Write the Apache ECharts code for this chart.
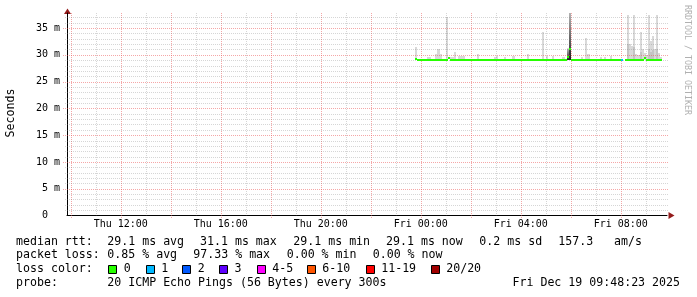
<!DOCTYPE html>
<html><head><meta charset="utf-8">
<script src="https://cdn.jsdelivr.net/npm/echarts@6/dist/echarts.min.js"></script>
<style>html,body{margin:0;padding:0;background:#fff}#c{width:697px;height:297px}</style>
</head><body><div id="c"></div>
<script>
// ---------------- DATA ----------------
// time unit: minutes after Thu 00:00
const axisStart = 591;      // Thu 09:51 (left edge)
const axisEnd = 2031;       // Fri 09:51 (right edge)
const tickMinutes = [720, 960, 1200, 1440, 1680, 1920];
const tickLabels = ['Thu 12:00', 'Thu 16:00', 'Thu 20:00', 'Fri 00:00', 'Fri 04:00', 'Fri 08:00'];
const yTickValues = [0, 5, 10, 15, 20, 25, 30, 35];
const yMax = 37.8;          // ms

const firstStep = 1425;     // Thu 23:45
const stepMinutes = 5;
// median rtt (ms), one value per 5-minute step
const median = [
  29.3, 29.1, 29.1,                                                        // 23:45
  29.1, 29.1, 29.1, 29.1, 29.1, 29.1, 29.1, 29.1, 29.1, 29.1, 29.1, 29.1,  // 00:00
  29.1, 29.4, 29.1, 29.1, 29.1, 29.1, 29.1, 29.1, 29.1, 29.1, 29.1, 29.1,  // 01:00
  29.1, 29.1, 29.1, 29.1, 29.1, 29.1, 29.1, 29.1, 29.1, 29.1, 29.1, 29.1,  // 02:00
  29.1, 29.1, 29.1, 29.1, 29.1, 29.1, 29.1, 29.1, 29.1, 29.1, 29.1, 29.1,  // 03:00
  29.1, 29.1, 29.1, 29.1, 29.1, 29.1, 29.1, 29.1, 29.1, 29.1, 29.1, 29.1,  // 04:00
  29.1, 29.1, 29.1, 29.1, 29.1, 29.1, 29.1, 29.1, 29.1, 29.1, 29.6, 31.1,  // 05:00
  29.1, 29.1, 29.1, 29.1, 29.1, 29.1, 29.1, 29.1, 29.1, 29.1, 29.1, 29.1,  // 06:00
  29.1, 29.1, 29.1, 29.1, 29.1, 29.1, 29.1, 29.1, 29.1, 29.1, 29.1, 29.1,  // 07:00
  29.1, null, 29.1, 29.1, 29.1, 29.1, 29.1, 29.1, 29.1, 29.1, 29.1, 29.4,  // 08:00
  29.1, 29.1, 29.1, 29.1, 29.1, 29.1, 29.1, 29.1                           // 09:00
];
// lost pings (of 20) per step
const loss = [
  0, 0, 0,
  0, 0, 0, 0, 0, 0, 0, 0, 0, 0, 0, 0,
  0, 0, 0, 0, 0, 0, 0, 0, 0, 0, 0, 0,
  0, 0, 0, 0, 0, 0, 0, 0, 0, 0, 0, 0,
  0, 0, 0, 0, 0, 0, 0, 0, 0, 0, 0, 0,
  0, 0, 0, 0, 0, 0, 0, 0, 0, 0, 0, 0,
  0, 0, 0, 0, 0, 0, 0, 0, 0, 0, 0, 0,
  0, 0, 0, 0, 0, 0, 0, 0, 0, 0, 0, 0,
  0, 0, 0, 0, 0, 0, 0, 0, 0, 0, 0, 0,
  1, 19.47, 0, 0, 0, 0, 0, 0, 0, 0, 0, 0,
  0, 0, 0, 0, 0, 0, 0, 0
];
// visible smoke (ping spread) above the median
const smokeFloor = 29.0;
const smokeTime = [1425, 1455, 1460, 1475, 1480, 1485, 1500, 1510, 1515, 1520, 1530, 1535, 1540,
  1575, 1615, 1620, 1640, 1660, 1695, 1730, 1740, 1755, 1780, 1790, 1795,
  1825, 1835, 1840, 1870, 1880, 1895,
  1935, 1940, 1945, 1950, 1955, 1960, 1965, 1970, 1975, 1980, 1985, 1990, 1995, 2000, 2005, 2010, 2015];
const smokeTop = [31.4, 29.6, 29.6, 30.1, 31.0, 30.1, 37.1, 29.6, 29.6, 30.6, 29.8, 29.8, 29.8,
  30.2, 29.6, 29.8, 29.6, 29.8, 30.1, 34.3, 29.8, 29.8, 29.6, 31.2, 37.8,
  29.6, 33.1, 30.1, 29.6, 29.6, 29.7,
  37.4, 32.1, 31.6, 37.4, 30.1, 30.0, 34.3, 31.0, 30.4, 30.0, 37.4, 32.6, 33.5, 31.0, 37.4, 30.4, 29.6];
const smokeMid = [null, null, null, null, null, null, null, null, null, null, null, null, null,
  null, null, null, null, null, null, null, null, null, null, null, null,
  null, null, null, null, null, null,
  32.0, null, null, 31.5, null, null, 30.5, null, null, null, 31.0, 30.5, 30.8, null, 31.0, null, null];
const smokeCore = [null, null, null, null, null, null, null, null, null, null, null, null, null,
  null, null, null, null, null, null, null, null, null, null, 31.1, 37.8,
  null, null, null, null, null, null,
  null, null, null, null, null, null, null, null, null, null, null, null, null, null, null, null, null];

const lossLabels = ['0', '1', '2', '3', '4-5', '6-10', '11-19', '20/20'];
const lossColors = ['#26ff00', '#00b8ff', '#0059ff', '#5e00ff', '#ff00ff', '#ff5500', '#ff0000', '#a10000'];
const lossLimits = [0, 1, 2, 3, 5, 10, 19, 20];

// ---------------- CHART ----------------
const MONO = '"DejaVu Sans Mono", monospace';
function lossColor(l) {
  for (let i = 0; i < lossLimits.length; i++) if (l <= lossLimits[i] + 1e-9) return lossColors[i];
  return lossColors[lossColors.length - 1];
}

const medianData = median.map((v, i) => [firstStep + i * stepMinutes, v, loss[i]]);
const smokeData = smokeTime.map((t, i) => [t, smokeTop[i], smokeMid[i], smokeCore[i]]);
const vGrid = []; for (let m = 600; m < axisEnd; m += 60) vGrid.push([m, m % 120 === 0 ? 1 : 0]);
const hGrid = []; for (let v = 1; v < yMax; v += 1) hGrid.push([v, v % 5 === 0 ? 1 : 0]);

const MINOR = 'rgba(128,128,128,0.32)';
const MAJOR = 'rgba(235,80,80,0.5)';

function rx(v) { return Math.round(v); }

function renderSmoke(params, api) {
  const t = api.value(0);
  const x0 = rx(api.coord([t, 0])[0]);
  const x1 = rx(api.coord([t + stepMinutes, 0])[0]);
  const yF = rx(api.coord([t, smokeFloor])[1]);
  const kids = [];
  const layers = [[api.value(1), '#d9d9d9'], [api.value(2), '#c4c4c4'], [api.value(3), null]];
  layers.forEach(([v, col]) => {
    if (v == null || isNaN(v)) return;
    const yT = rx(api.coord([t, v])[1]);
    const fill = col || new echarts.graphic.LinearGradient(0, 0, 0, 1, [
      { offset: 0, color: '#b4b4b4' }, { offset: 0.7, color: '#505050' }, { offset: 1, color: '#1c1c1c' }]);
    kids.push({ type: 'rect', shape: { x: x0, y: yT, width: x1 - x0, height: yF - yT }, style: { fill } });
  });
  return { type: 'group', children: kids };
}

function renderMedian(params, api) {
  const t = api.value(0), v = api.value(1), l = api.value(2);
  if (v == null || isNaN(v)) return null;
  const p0 = api.coord([t, v]), p1 = api.coord([t + stepMinutes, v]);
  const y = rx(p0[1]);
  return { type: 'rect', shape: { x: rx(p0[0]), y: y - 1, width: rx(p1[0]) - rx(p0[0]), height: 2 },
    style: { fill: lossColor(l) } };
}

function renderVGrid(params, api) {
  const cs = params.coordSys;
  const x = rx(api.coord([api.value(0), 0])[0]) + 0.5;
  const major = api.value(1) === 1;
  return { type: 'line', shape: { x1: x, y1: cs.y, x2: x, y2: cs.y + cs.height + (major ? 3 : 0) },
    style: { stroke: major ? MAJOR : MINOR, lineWidth: 1, lineDash: [1, 1] } };
}
function renderHGrid(params, api) {
  const cs = params.coordSys;
  const y = rx(api.coord([axisStart, api.value(0)])[1]) + 0.5;
  const major = api.value(1) === 1;
  return { type: 'line', shape: { x1: cs.x - (major ? 4 : 2), y1: y, x2: cs.x + cs.width + 2, y2: y },
    style: { stroke: major ? MAJOR : MINOR, lineWidth: 1, lineDash: [1, 1] } };
}

const T = (x, y, text, extra, rot) => ({ type: 'text', x, y, rotation: rot || 0, silent: true,
  style: Object.assign({ text, fill: '#000', font: '11.6px ' + MONO, verticalAlign: 'middle' }, extra || {}) });

const graphics = [
  T(10.5, 113, 'Seconds', { align: 'center' }, Math.PI / 2),
  T(687, 60, 'RRDTOOL / TOBI OETIKER', { align: 'center', fill: '#b0b0b0', font: '8.3px ' + MONO }, -Math.PI / 2),
  T(16, 241.5, 'median rtt:'), T(107.3, 241.5, '29.1 ms avg'), T(200, 241.5, '31.1 ms max'),
  T(293.3, 241.5, '29.1 ms min'), T(386, 241.5, '29.1 ms now'), T(479.3, 241.5, '0.2 ms sd'),
  T(558.3, 241.5, '157.3'), T(614, 241.5, 'am/s'),
  T(16, 255.3, 'packet loss:'), T(107.3, 255.3, '0.85 % avg'), T(193.3, 255.3, '97.33 % max'),
  T(286.7, 255.3, '0.00 % min'), T(372.7, 255.3, '0.00 % now'),
  T(16, 269.2, 'loss color:'),
  T(16, 283, 'probe:'), T(107.3, 283, '20 ICMP Echo Pings (56 Bytes) every 300s'),
  T(680, 283, 'Fri Dec 19 09:48:23 2025', { align: 'right' }),
  { type: 'polygon', silent: true, shape: { points: [[67.5, 8.5], [64, 14], [71, 14]] }, style: { fill: '#941c1c' } },
  { type: 'polygon', silent: true, shape: { points: [[674.5, 215.5], [668.5, 212], [668.5, 219]] }, style: { fill: '#941c1c' } }
];
const boxX = [108.3, 145.7, 182.3, 219, 256.7, 306.7, 365.7, 430.7];
lossLabels.forEach((lab, i) => {
  graphics.push({ type: 'rect', silent: true, shape: { x: rx(boxX[i]) + 0.5, y: 265.5, width: 8, height: 8 },
    style: { fill: lossColors[i], stroke: '#000', lineWidth: 1 } });
  graphics.push(T(boxX[i] + 15.5, 269.2, lab));
});

const chart = echarts.init(document.getElementById('c'), null, { renderer: 'canvas' });
chart.setOption({
  backgroundColor: '#ffffff',
  animation: false,
  grid: { left: 67, right: 30, top: 13, bottom: 81.5, containLabel: false },
  xAxis: {
    type: 'value', min: axisStart, max: axisEnd,
    axisLine: { show: true, lineStyle: { color: '#000', width: 1 } },
    axisTick: { show: false }, splitLine: { show: false },
    axisLabel: {
      customValues: tickMinutes, margin: 4, color: '#000', fontSize: 10, fontFamily: MONO,
      formatter: v => { const i = tickMinutes.indexOf(v); return i >= 0 ? tickLabels[i] : ''; }
    }
  },
  yAxis: {
    type: 'value', min: 0, max: yMax, interval: 5,
    axisLine: { show: true, lineStyle: { color: '#000', width: 1 } },
    axisTick: { show: false }, splitLine: { show: false },
    axisLabel: {
      margin: 7, color: '#000', fontSize: 10, fontFamily: MONO,
      formatter: v => (yTickValues.indexOf(v) < 0 ? '' : (v === 0 ? '0  ' : v + ' m'))
    }
  },
  series: [
    { type: 'custom', name: 'smoke', z: 2, data: smokeData, encode: { x: 0, y: 1 }, renderItem: renderSmoke, silent: true },
    { type: 'custom', name: 'vgrid', z: 3, data: vGrid, encode: { x: 0 }, renderItem: renderVGrid, silent: true },
    { type: 'custom', name: 'hgrid', z: 3, data: hGrid, encode: { y: 0 }, renderItem: renderHGrid, silent: true },
    { type: 'custom', name: 'median', z: 4, data: medianData, encode: { x: 0, y: 1 }, renderItem: renderMedian, silent: true }
  ],
  graphic: graphics
});
</script></body></html>
